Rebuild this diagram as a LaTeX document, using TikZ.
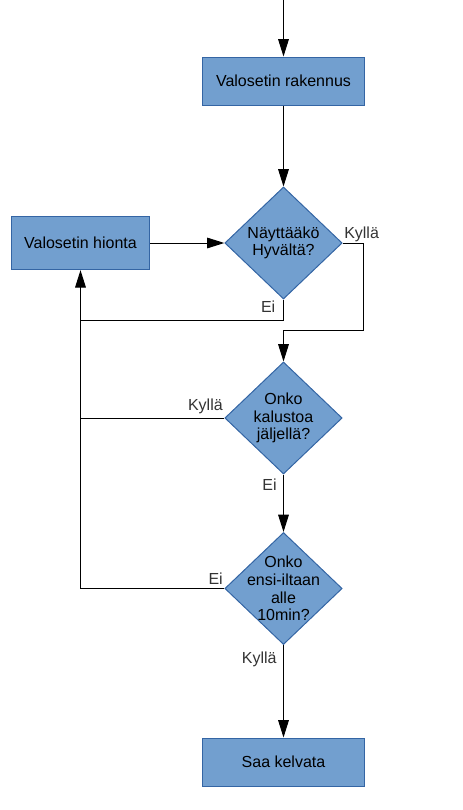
\documentclass[tikz,border=0pt]{standalone}
\usepackage{fontspec}
\setmainfont{Liberation Sans}
\usepackage{tikz}
\usetikzlibrary{arrows.meta,shapes.geometric}
\definecolor{boxfill}{HTML}{729FCF}
\definecolor{boxline}{HTML}{3465A4}
\definecolor{labtext}{HTML}{333333}

\begin{document}
\begin{tikzpicture}[x=0.75pt,y=-0.75pt,
    font=\fontsize{12}{13.2}\selectfont,
    box/.style={draw=boxline,fill=boxfill,line width=0.75pt,minimum width=122pt,minimum height=36pt,inner sep=0pt},
    decision/.style={diamond,draw=boxline,fill=boxfill,line width=0.75pt,minimum width=88pt,minimum height=84pt,inner sep=0pt},
    arr/.style={line width=0.75pt,-{Triangle[length=13pt,width=8pt]}},
    line/.style={line width=0.75pt},
    lab/.style={text=labtext,inner sep=1pt}]
            \useasboundingbox (0,0) rectangle (462,810);
            % boxes
            \coordinate (top) at (283.5,0);
            \node[box] (rak) at (283.5,81) {Valosetin rakennus};
            \node[box,minimum width=104pt,minimum height=40pt] (hio) at (80.5,243) {Valosetin hionta};
            \node[box] (saa) at (283.5,762) {Saa kelvata};
            % decisions
            \node[decision] (d1) at (283.5,243) {};
            \node[align=center] (d1t) at (d1) {Näyttääkö\\Hyvältä?};
            \node[decision] (d2) at (283.5,418) {};
            \node[align=center] (d2t) at (d2) {Onko\\kalustoa\\jäljellä?};
            \node[decision] (d3) at (283.5,588.5) {};
            \node[align=center] (d3t) at (d3) {Onko\\ensi-iltaan\\alle\\10min?};
            \coordinate (yk) at (363,330);
            \coordinate (loop) at (80.5,320);
            % connectors
            \draw[arr] (top) -- (rak);
            \draw[arr] (rak) -- (d1);
            \draw[arr] (hio) -- (d1);
            \draw[arr] (d1.east) -| (yk) -| (d2.north);
            \draw[arr] (d1.south) |- (loop) -- (hio.south);
            \draw[line] (d2.west) -- (d2.west -| loop);
            \draw[line] (d3.west) -| (loop);
            \draw[arr] (d2) -- (d3);
            \draw[arr] (d3) -- (saa);
            % labels
            \node[lab,anchor=south west] (k1) at (d1.east) {Kyllä};
            \node[lab,anchor=north east,xshift=-5] (e1) at (d1.south) {Ei};
            \node[lab,anchor=south east,yshift=2] (k2) at (d2.west) {Kyllä};
            \node[lab,anchor=north east,xshift=-4,yshift=-2] (e2) at (d2.south) {Ei};
            \node[lab,anchor=south east,yshift=2] (e3) at (d3.west) {Ei};
            \node[lab,anchor=north east,xshift=-4,yshift=-4] (k3) at (d3.south) {Kyllä};
          \end{tikzpicture}
\end{document}
